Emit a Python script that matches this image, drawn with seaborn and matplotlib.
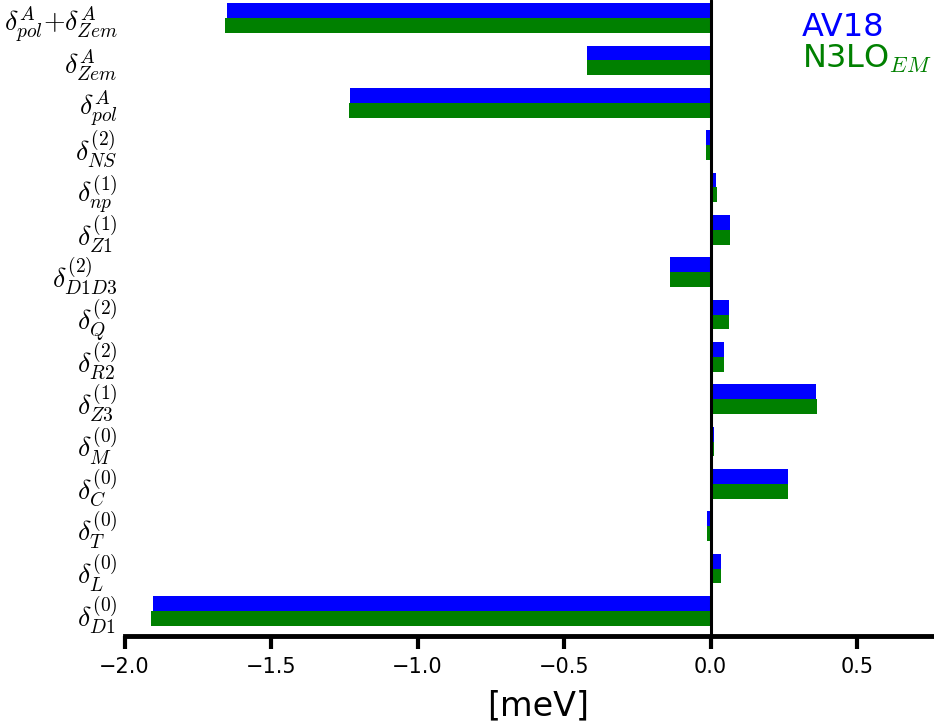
import pandas as pd
import matplotlib.pyplot as plt
import seaborn as sns
plt.switch_backend('Agg')

sns.set_style("white")
plt.rcParams['mathtext.fontset'] = 'cm'
plt.rcParams['font.family'] = ['DejaVu Sans']
plt.rcParams['text.color'] = 'black'
plt.rcParams['axes.labelcolor'] = 'black'
plt.rcParams['xtick.color'] = 'black'
plt.rcParams['ytick.color'] = 'black'

# terms, listed top to bottom as in the chart
labels = [r'$\delta^{A}_{pol}{+}\delta^{A}_{Zem}$', r'$\delta^{A}_{Zem}$', r'$\delta^{A}_{pol}$',
          r'$\delta^{(2)}_{NS}$', r'$\delta^{(1)}_{np}$', r'$\delta^{(1)}_{Z1}$',
          r'$\delta^{(2)}_{D1D3}$', r'$\delta^{(2)}_{Q}$', r'$\delta^{(2)}_{R2}$',
          r'$\delta^{(1)}_{Z3}$', r'$\delta^{(0)}_{M}$', r'$\delta^{(0)}_{C}$',
          r'$\delta^{(0)}_{T}$', r'$\delta^{(0)}_{L}$', r'$\delta^{(0)}_{D1}$']

# values in meV
av18 = [-1.650, -0.423, -1.231, -0.015, 0.019, 0.066, -0.138, 0.063, 0.046,
        0.361, 0.012, 0.265, -0.011, 0.034, -1.903]
n3lo = [-1.657, -0.423, -1.234, -0.015, 0.022, 0.066, -0.138, 0.063, 0.046,
        0.365, 0.012, 0.265, -0.011, 0.034, -1.909]

models = ['AV18', 'N3LO']
colors = ['blue', 'green']
xticks = [-2.0, -1.5, -1.0, -0.5, 0.0, 0.5]

df = pd.DataFrame({
    'term': labels * 2,
    'value': av18 + n3lo,
    'model': [models[0]] * len(labels) + [models[1]] * len(labels),
})

fig = plt.figure(figsize=(9.34, 7.22), dpi=100)
ax = fig.add_axes([0.1333, 0.1191, 0.8847, 0.8809])

sns.barplot(data=df, x='value', y='term', hue='model', hue_order=models,
            palette=colors, orient='h', width=0.7, saturation=1,
            linewidth=0, edgecolor='none', errorbar=None, legend=False, ax=ax)

ax.axvline(0, color='black', lw=2.2, zorder=5)

ax.set_xlim(-2.0, 0.82)
ax.set_ylim(14.59, -0.425)
ax.set_xticks(xticks)

for s in ['top', 'right', 'left']:
    ax.spines[s].set_visible(False)
ax.spines['bottom'].set_linewidth(3.5)
ax.spines['bottom'].set_color('black')

ax.tick_params(axis='x', direction='out', length=9, width=3, labelsize=15, pad=6, bottom=True)
ax.tick_params(axis='y', length=0, labelsize=20, pad=5)

ax.set_ylabel('')
ax.set_xlabel('[meV]', fontsize=24, labelpad=9)

# model names as coloured text instead of a legend box
fig.text(0.8587, 0.9495, 'AV18', color='blue', fontsize=23, va='baseline')
fig.text(0.8587, 0.907, r'N3LO$_{EM}$', color='green', fontsize=23, va='baseline')

fig.savefig('out.png', dpi=100)
